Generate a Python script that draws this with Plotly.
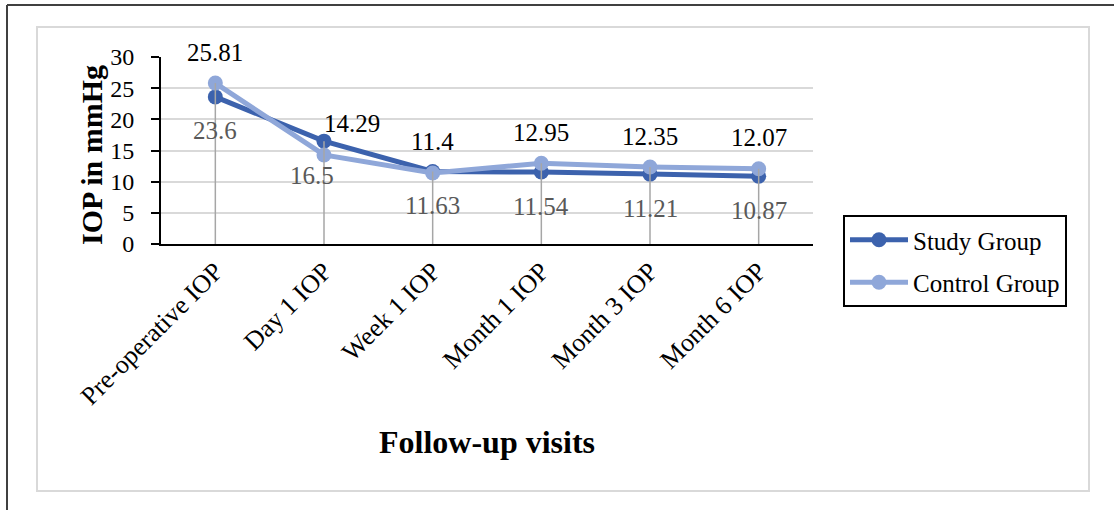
import plotly.graph_objects as go

# Follow-up visits and mean IOP (mmHg) per group
visits = ["Pre-operative IOP", "Day 1 IOP", "Week 1 IOP", "Month 1 IOP", "Month 3 IOP", "Month 6 IOP"]
study_iop = [23.6, 16.5, 11.63, 11.54, 11.21, 10.87]
control_iop = [25.81, 14.29, 11.4, 12.95, 12.35, 12.07]

W, H = 1114, 510
ML, MR, MT, MB = 161, 301, 57, 266
PW, PH = W - ML - MR, H - MT - MB


def px_x(p):
    return (p - ML) / PW


def px_y(p):
    return (H - MB - p) / PH


FONT = "Liberation Serif"
STUDY_COLOR = "#3C62AD"
CONTROL_COLOR = "#8FA7D9"

fig = go.Figure()

fig.add_trace(go.Scatter(
    x=visits, y=study_iop, name="Study Group", mode="lines+markers",
    line=dict(color=STUDY_COLOR, width=5), marker=dict(size=15, color=STUDY_COLOR),
    legendgroup="study",
))
fig.add_trace(go.Scatter(
    x=visits, y=control_iop, name="Control Group", mode="lines+markers",
    line=dict(color=CONTROL_COLOR, width=5), marker=dict(size=15, color=CONTROL_COLOR),
    legendgroup="control",
))

# drop lines from the higher of the two points down to the axis
drop_x, drop_y = [], []
for v, s, c in zip(visits, study_iop, control_iop):
    drop_x += [v, v, None]
    drop_y += [max(s, c), 0, None]
fig.add_trace(go.Scatter(
    x=drop_x, y=drop_y, mode="lines", showlegend=False, hoverinfo="skip",
    line=dict(color="#A6A6A6", width=1.5),
))

# value labels: control above, study below
nudge_control = [0, 28, 0, 0, 0, 0]
nudge_study = [0, -12, 0, 0, 0, 0]
for v, s, c, nc, ns in zip(visits, study_iop, control_iop, nudge_control, nudge_study):
    fig.add_annotation(x=v, y=c, text=f"{c:g}", showarrow=False, yshift=31, xshift=nc,
                       font=dict(family=FONT, size=25, color="#000000"))
    fig.add_annotation(x=v, y=s, text=f"{s:g}", showarrow=False, yshift=-34, xshift=ns,
                       font=dict(family=FONT, size=25, color="#595959"))

# axis titles
fig.add_annotation(xref="paper", yref="paper", x=0.5, y=px_y(442), text="<b>Follow-up visits</b>",
                   showarrow=False, xanchor="center", yanchor="middle",
                   font=dict(family=FONT, size=32, color="#000000"))
fig.add_annotation(xref="paper", yref="paper", x=px_x(91), y=px_y(155), text="<b>IOP in mmHg</b>",
                   showarrow=False, textangle=-90, xanchor="center", yanchor="middle",
                   font=dict(family=FONT, size=30, color="#000000"))

# chart frame and outer page border
fig.add_shape(type="rect", xref="paper", yref="paper",
              x0=px_x(37), x1=px_x(1089), y0=px_y(491), y1=px_y(27),
              line=dict(color="#D9D9D9", width=2), layer="below")
fig.add_shape(type="line", xref="paper", yref="paper",
              x0=px_x(7), x1=px_x(1114), y0=px_y(5), y1=px_y(5),
              line=dict(color="#404040", width=2))
fig.add_shape(type="line", xref="paper", yref="paper",
              x0=px_x(7), x1=px_x(7), y0=px_y(5), y1=px_y(512),
              line=dict(color="#404040", width=2))

fig.update_layout(
    width=W, height=H,
    margin=dict(l=ML, r=MR, t=MT, b=MB),
    paper_bgcolor="white", plot_bgcolor="white",
    font=dict(family=FONT, size=22, color="#000000"),
    showlegend=True,
    legend=dict(
        x=px_x(843), y=px_y(215), xanchor="left", yanchor="top",
        bgcolor="white", bordercolor="#000000", borderwidth=2,
        font=dict(family=FONT, size=25, color="#000000"),
        traceorder="grouped", tracegroupgap=7, itemwidth=58,
        entrywidth=168, entrywidthmode="pixels",
    ),
    xaxis=dict(
        type="category", range=[-0.5, 5.5], showgrid=False, zeroline=False,
        showline=True, linecolor="#000000", linewidth=1.5, ticks="",
        tickangle=-45, tickfont=dict(family=FONT, size=26, color="#000000"),
    ),
    yaxis=dict(
        range=[0, 30], dtick=5, showgrid=True, gridcolor="#D9D9D9", gridwidth=1.5,
        zeroline=False, showline=True, linecolor="#000000", linewidth=2,
        ticks="outside", ticklen=8, tickcolor="#000000", tickwidth=1.5,
        ticklabelstandoff=12,
        tickfont=dict(family=FONT, size=24, color="#000000"),
    ),
)

fig.write_html("out.html")
